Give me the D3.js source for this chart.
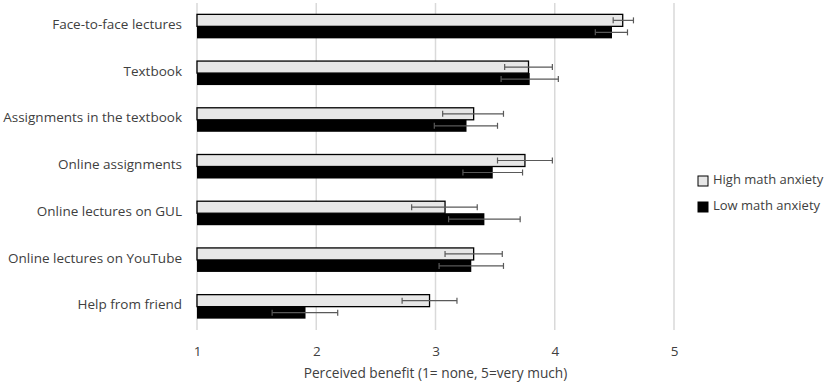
<!DOCTYPE html>
<html>
<head>
<meta charset="utf-8">
<script src="https://cdn.jsdelivr.net/npm/d3@7"></script>
<style>
  body { margin: 0; background: #fff; }
  text { font-family: "Open Sans", "Liberation Sans", sans-serif; fill: #404040; }
</style>
</head>
<body>
<div id="chart"></div>
<script>
const categories = [
  "Face-to-face lectures",
  "Textbook",
  "Assignments in the textbook",
  "Online assignments",
  "Online lectures on GUL",
  "Online lectures on YouTube",
  "Help from friend"
];
const seriesNames = ["High math anxiety", "Low math anxiety"];
const highMean = [4.57, 3.78, 3.32, 3.75, 3.08, 3.32, 2.95];
const highLow  = [4.49, 3.58, 3.06, 3.52, 2.80, 3.08, 2.72];
const highHigh = [4.66, 3.98, 3.57, 3.98, 3.35, 3.56, 3.18];
const lowMean  = [4.48, 3.79, 3.26, 3.48, 3.41, 3.30, 1.91];
const lowLow   = [4.34, 3.55, 2.99, 3.23, 3.11, 3.03, 1.63];
const lowHigh  = [4.61, 4.03, 3.52, 3.73, 3.71, 3.57, 2.18];
const xTicks = [1, 2, 3, 4, 5];
const xTitle = "Perceived benefit (1= none, 5=very much)";

const width = 829, height = 384;
const plot = { left: 197, right: 674, top: 3, bottom: 330 };

const svg = d3.select("#chart").append("svg")
  .attr("width", width)
  .attr("height", height);

const x = d3.scaleLinear().domain([1, 5]).range([plot.left, plot.right]);
const y = d3.scaleBand().domain(categories).range([plot.top, plot.bottom]);
const barH = 12;

// gridlines
svg.append("g")
  .selectAll("line")
  .data(xTicks)
  .join("line")
  .attr("x1", d => x(d)).attr("x2", d => x(d))
  .attr("y1", plot.top).attr("y2", plot.bottom)
  .attr("stroke", "#d9d9d9")
  .attr("stroke-width", 1.5);

// x axis labels
const xAxis = svg.append("g")
  .attr("transform", `translate(0,${plot.bottom})`)
  .call(d3.axisBottom(x).tickValues(xTicks).tickSize(0).tickPadding(16).tickFormat(d3.format("d")));
xAxis.select(".domain").remove();
xAxis.selectAll("text")
  .style("font-size", "13.5px")
  .style("font-family", "'Open Sans', sans-serif")
  .attr("fill", "#404040");

svg.append("text")
  .attr("x", (plot.left + plot.right) / 2)
  .attr("y", 378)
  .attr("text-anchor", "middle")
  .style("font-size", "13.7px")
  .text(xTitle);

// category labels
svg.append("g")
  .selectAll("text")
  .data(categories)
  .join("text")
  .attr("x", 182)
  .attr("y", d => y(d) + y.bandwidth() / 2 - 1)
  .attr("text-anchor", "end")
  .attr("dominant-baseline", "middle")
  .style("font-size", "13.5px")
  .text(d => d);

const rows = categories.map((c, i) => ({
  cat: c,
  high: { mean: highMean[i], lo: highLow[i], hi: highHigh[i] },
  low: { mean: lowMean[i], lo: lowLow[i], hi: lowHigh[i] }
}));

const barTop = d => y(d.cat) + y.bandwidth() / 2 - barH;

// high bars (light)
svg.append("g")
  .selectAll("rect")
  .data(rows)
  .join("rect")
  .attr("x", x(1))
  .attr("y", d => barTop(d))
  .attr("width", d => x(d.high.mean) - x(1))
  .attr("height", barH)
  .attr("fill", "#e7e7e7")
  .attr("stroke", "#000")
  .attr("stroke-width", 1.3);

// low bars (black)
svg.append("g")
  .selectAll("rect")
  .data(rows)
  .join("rect")
  .attr("x", x(1))
  .attr("y", d => barTop(d) + barH)
  .attr("width", d => x(d.low.mean) - x(1))
  .attr("height", barH)
  .attr("fill", "#000");

// error bars
function errorBars(key, offset) {
  const g = svg.append("g")
    .attr("stroke", "#595959")
    .attr("stroke-width", 1.2);
  const cy = d => barTop(d) + offset + barH / 2;
  g.selectAll(".stem").data(rows).join("line")
    .attr("x1", d => x(d[key].lo)).attr("x2", d => x(d[key].hi))
    .attr("y1", cy).attr("y2", cy);
  g.selectAll(".capL").data(rows).join("line")
    .attr("x1", d => x(d[key].lo)).attr("x2", d => x(d[key].lo))
    .attr("y1", d => cy(d) - 3).attr("y2", d => cy(d) + 3);
  g.selectAll(".capR").data(rows).join("line")
    .attr("x1", d => x(d[key].hi)).attr("x2", d => x(d[key].hi))
    .attr("y1", d => cy(d) - 3).attr("y2", d => cy(d) + 3);
}
errorBars("high", 0);
errorBars("low", barH);

// legend
const legend = svg.append("g")
  .selectAll("g")
  .data(seriesNames)
  .join("g")
  .attr("transform", (d, i) => `translate(698,${181 + i * 26})`);
legend.append("rect")
  .attr("x", 0).attr("y", -5)
  .attr("width", 10).attr("height", 10)
  .attr("fill", (d, i) => i === 0 ? "#e7e7e7" : "#000")
  .attr("stroke", "#000")
  .attr("stroke-width", 1);
legend.append("text")
  .attr("x", 15)
  .attr("y", 0)
  .attr("dominant-baseline", "middle")
  .style("font-size", "13px")
  .text(d => d);
</script>
</body>
</html>
